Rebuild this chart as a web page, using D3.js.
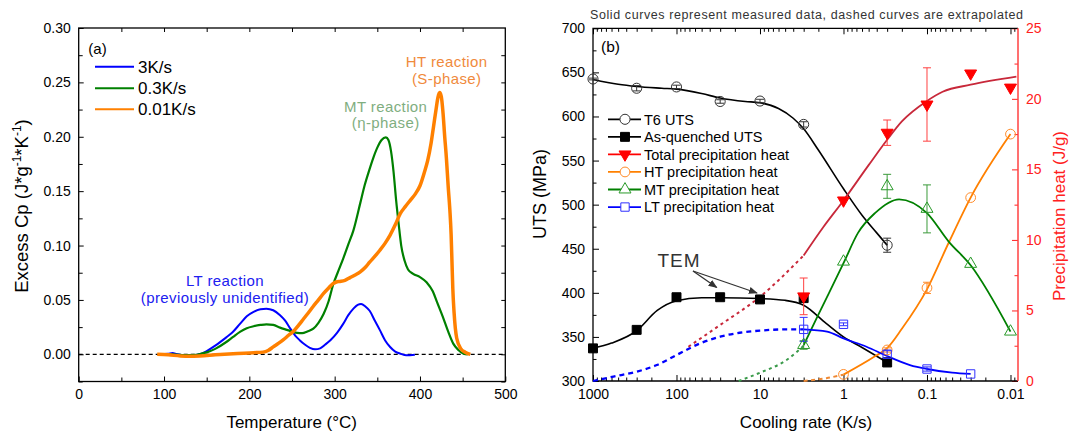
<!DOCTYPE html>
<html>
<head>
<meta charset="utf-8">
<script src="https://cdn.jsdelivr.net/npm/d3@7"></script>
<style>
  body { margin: 0; background: #fff; }
  svg text { font-family: "Liberation Sans", Arial, sans-serif; }
</style>
</head>
<body>
<svg id="chart" width="1071" height="433"></svg>
<script>
// ---------- panel (a): excess Cp curves, [temperature, Cp] ----------
const tempTicks = [0, 100, 200, 300, 400, 500];
const cpTicks = [0, 0.05, 0.10, 0.15, 0.20, 0.25, 0.30];
const rateLabels = ["3K/s", "0.3K/s", "0.01K/s"];

const curve3Ks = [[95,0],[105,0.0005],[110,0.0012],[115,0],[125,-0.001],[135,-0.0008],[142,0],[150,0.003],
  [160,0.008],[173,0.0156],[180,0.02],[189,0.028],[197,0.035],[205,0.039],[213,0.0415],[220,0.042],
  [228,0.0405],[236,0.036],[242,0.031],[248,0.0236],[254,0.017],[259,0.013],[265,0.009],[271,0.006],
  [277,0.0046],[283,0.0055],[289,0.009],[295,0.013],[303,0.02],[310,0.028],[316,0.036],[322,0.042],
  [327,0.0455],[331,0.0463],[336,0.044],[341,0.04],[347,0.031],[353,0.0222],[359,0.013],[365,0.0067],
  [371,0.0025],[377,0.0006],[384,-0.0009],[394,-0.0003]];

const curve03Ks = [[93,0],[110,0],[125,-0.0008],[138,-0.0005],[145,0.001],[150,0.0018],[160,0.005],
  [173,0.0113],[181,0.016],[189,0.0206],[197,0.024],[205,0.0258],[213,0.027],[220,0.0276],[228,0.027],
  [236,0.0245],[244,0.0225],[250,0.021],[256,0.0197],[262,0.0195],[268,0.021],[275,0.0236],[281,0.029],
  [287,0.037],[293,0.049],[298,0.0635],[304,0.076],[310,0.088],[316,0.101],[322,0.114],[330,0.139],
  [335,0.155],[340,0.168],[345,0.18],[350,0.19],[355,0.197],[360,0.1995],[363,0.197],[366,0.187],
  [369,0.168],[372,0.142],[375,0.12],[378,0.1],[382,0.086],[386,0.078],[392,0.074],[400,0.071],
  [408,0.066],[415,0.058],[420,0.048],[427,0.034],[433,0.021],[439,0.0098],[445,0.004],[451,0.0006],[456,0]];

const curve001Ks = [[92,0],[105,-0.0005],[119,-0.0015],[130,-0.0018],[142,-0.0015],[160,-0.0005],
  [181,0.0006],[205,0.0015],[216,0.002],[222,0.0035],[228,0.0068],[234,0.01],[240,0.0135],[246,0.0175],
  [252,0.0215],[258,0.027],[263,0.032],[269,0.038],[275,0.0442],[281,0.05],[287,0.056],[293,0.061],
  [298,0.065],[302,0.0665],[306,0.067],[312,0.068],[318,0.0705],[324,0.073],[330,0.0758],[336,0.08],
  [341,0.0847],[347,0.09],[353,0.0957],[359,0.102],[365,0.1096],[371,0.119],[377,0.1295],[383,0.136],
  [389,0.142],[395,0.148],[400,0.155],[405,0.167],[409,0.178],[413,0.194],[416,0.21],[419,0.226],
  [421,0.236],[423,0.2406],[425,0.237],[427,0.222],[429,0.2],[431,0.18],[433,0.155],[435,0.133],
  [436.5,0.11],[437.5,0.085],[438.5,0.06],[440,0.038],[443,0.015],[448,0.005],[453,0.002],[459,0]];

// ---------- panel (b): UTS and precipitation heat vs cooling rate ----------
const rateTicks = [1000, 100, 10, 1, 0.1, 0.01];
const utsTicks = [300, 350, 400, 450, 500, 550, 600, 650, 700];
const heatTicks = [0, 5, 10, 15, 20, 25];

const utsRates = [1000, 300, 100, 30, 10, 3, 0.3];
const t6Uts = [642.5, 632, 633.5, 617, 617.5, 591, 454];
const t6Err = [1, 3, 2, 2, 2, 3, 8];
const aqUts = [337, 358, 395, 395, 392.5, 394, 321];

const totalRates = [3, 1, 0.3, 0.1, 0.03, 0.01];
const totalHeat = [6.0, 12.8, 17.6, 19.6, 21.8, 20.8];
const totalErr = [1.3, 0, 0.9, 2.6, 0, 0];
const htRates = [1, 0.3, 0.1, 0.03, 0.01];
const htHeat = [0.47, 2.2, 6.6, 13.0, 17.5];
const htErr = [0, 0.15, 0.4, 0, 0];
const mtRates = [3, 1, 0.3, 0.1, 0.03, 0.01];
const mtHeat = [2.55, 8.46, 13.8, 12.2, 8.3, 3.5];
const mtErr = [0.3, 0, 0.85, 1.7, 0, 0];
const ltRates = [3, 1, 0.3, 0.1, 0.03];
const ltHeat = [3.66, 4.02, 1.9, 0.85, 0.5];
const ltErr = [0.85, 0.1, 0.25, 0.15, 0];

// fitted curves, [rate, value]
const t6Fit = [[1000,642],[500,636.5],[300,634],[150,632],[100,631],[50,626],[30,621],[15,617],[10,615.5],
  [6,609],[4,598],[3,586],[2,562],[1,518],[0.6,488],[0.4,468],[0.3,454]];
const aqFit = [[1000,337],[600,343],[300,357],[170,380],[100,391],[50,394.5],[30,394.5],[10,393.5],
  [5,391.5],[3,386],[1.6,365],[1,350],[0.6,338],[0.3,321]];
const totalFit = [[3,8.9],[1.75,10.9],[1,12.8],[0.5,15.3],[0.3,17.1],[0.2,18.4],[0.1,19.85],[0.065,20.5],
  [0.03,21.0],[0.0085,21.57]];
const totalDash = [[72,2.43],[30,3.97],[10,5.97],[3,8.9]];
const htFit = [[1,0.45],[0.42,1.75],[0.3,2.33],[0.2,3.7],[0.1,6.5],[0.055,9.8],[0.03,13.0],[0.01,17.5]];
const htDash = [[3,0],[1.6,0.2],[1,0.45]];
const mtFit = [[3,2.55],[2,4.7],[1,8.35],[0.67,10.5],[0.42,11.9],[0.216,12.88],[0.1,11.9],[0.055,9.88],
  [0.03,8.2],[0.01,3.5]];
const mtDash = [[18,0],[10,0.59],[4.8,1.49],[3,2.5]];
const ltFit = [[3,3.66],[1.57,3.5],[1,3.02],[0.53,2.43],[0.3,1.77],[0.16,1.13],[0.1,0.85],[0.05,0.59],[0.03,0.5]];
const ltDash = [[1000,0],[570,0.31],[300,0.66],[172,1.13],[100,1.84],[52,2.67],[30,3.14],[17.5,3.42],
  [10,3.57],[4.8,3.66],[3,3.66]];

const legendB = ["T6 UTS", "As-quenched UTS", "Total precipitation heat", "HT precipitation heat",
  "MT precipitation heat", "LT precipitation heat"];

const svg = d3.select("#chart");

function addAxis(gen, tf, color = "#000") {
  const a = svg.append("g").attr("transform", tf).call(gen)
    .attr("font-family", null).attr("font-size", 14).attr("color", color);
  a.select(".domain").remove();
  return a;
}

// ================= panel (a) =================
const xa = d3.scaleLinear().domain([0, 500]).range([78.7, 505.3]);
const ya = d3.scaleLinear().domain([-0.025, 0.30]).range([381.5, 28]);

addAxis(d3.axisBottom(xa).tickValues(tempTicks).tickSize(-5).tickPadding(8).tickFormat(d3.format("d")), "translate(0,381.5)");
addAxis(d3.axisBottom(xa).tickValues([50, 150, 250, 350, 450]).tickSize(-4).tickFormat(""), "translate(0,381.5)");
addAxis(d3.axisTop(xa).tickValues(d3.range(50, 500, 50)).tickSize(-4).tickFormat(""), "translate(0,28)");
addAxis(d3.axisLeft(ya).tickValues(cpTicks).tickSize(-5).tickPadding(8).tickFormat(d3.format(".2f")), "translate(78.7,0)");
addAxis(d3.axisLeft(ya).tickValues([-0.025, 0.025, 0.075, 0.125, 0.175, 0.225, 0.275]).tickSize(-4).tickFormat(""), "translate(78.7,0)");
addAxis(d3.axisRight(ya).tickValues(d3.range(-0.025, 0.29, 0.025)).tickSize(-4).tickFormat(""), "translate(505.3,0)");

svg.append("rect").attr("x", 78.7).attr("y", 28).attr("width", 505.3 - 78.7).attr("height", 381.5 - 28)
  .attr("fill", "none").attr("stroke", "#000").attr("stroke-width", 1.3);

svg.append("line").attr("x1", xa(0)).attr("x2", xa(500)).attr("y1", ya(0)).attr("y2", ya(0))
  .attr("stroke", "#000").attr("stroke-width", 1.2).attr("stroke-dasharray", "4,3");

const lineA = d3.line().x(d => xa(d[0])).y(d => ya(d[1])).curve(d3.curveMonotoneX);
const colorsA = ["#0000ff", "#008000", "#ff8000"];
const widthsA = [2, 2.2, 3.5];
[curve3Ks, curve03Ks, curve001Ks].forEach((c, i) => {
  svg.append("path").attr("d", lineA(c)).attr("fill", "none")
    .attr("stroke", colorsA[i]).attr("stroke-width", widthsA[i]).attr("stroke-linejoin", "round");
});

svg.append("text").attr("x", 88.3).attr("y", 53.8).attr("font-size", 15).text("(a)");
rateLabels.forEach((t, i) => {
  const y = [66.7, 88.3, 109.3][i];
  svg.append("line").attr("x1", 95).attr("x2", 134).attr("y1", y).attr("y2", y)
    .attr("stroke", colorsA[i]).attr("stroke-width", 2);
  svg.append("text").attr("x", 138).attr("y", y + 6).attr("font-size", 17).text(t);
});

function note(x, y, lines, color) {
  lines.forEach((t, i) => svg.append("text").attr("x", x).attr("y", y + i * 16.5)
    .attr("text-anchor", "middle").attr("font-size", 15).attr("letter-spacing", 0.4)
    .attr("fill", color).text(t));
}
note(446.7, 67, ["HT reaction", "(S-phase)"], "#f08a3c");
note(385.7, 111.5, ["MT reaction", "(\u03b7-phase)"], "#7fae7f");
note(225, 286, ["LT reaction", "(previously unidentified)"], "#2020f0");

svg.append("text").attr("x", 291.7).attr("y", 427.5).attr("text-anchor", "middle").attr("font-size", 17)
  .text("Temperature (\u00b0C)");
const yTitleA = svg.append("text").attr("transform", "translate(28,206) rotate(-90)")
  .attr("text-anchor", "middle").attr("font-size", 18.5);
yTitleA.append("tspan").text("Excess Cp (J*g");
yTitleA.append("tspan").attr("font-size", 12).attr("dy", -7.5).text("-1");
yTitleA.append("tspan").attr("dy", 7.5).text("*K");
yTitleA.append("tspan").attr("font-size", 12).attr("dy", -7.5).text("-1");
yTitleA.append("tspan").attr("dy", 7.5).text(")");

// ================= panel (b) =================
const xb = d3.scaleLog().domain([1000, 0.00813]).range([593, 1018]);
const yb = d3.scaleLinear().domain([300, 700]).range([381, 28.3]);
const yh = d3.scaleLinear().domain([0, 25]).range([381, 28.3]);

const minorRates = [];
for (let e = -3; e <= 2; e++) for (let k = 2; k <= 9; k++) {
  const v = k * Math.pow(10, e);
  if (v > 0.00813 && v < 1000) minorRates.push(v);
}

addAxis(d3.axisBottom(xb).tickValues(rateTicks).tickSize(-6).tickPadding(8).tickFormat(d => String(d)), "translate(0,381)");
addAxis(d3.axisBottom(xb).tickValues(minorRates).tickSize(-3.5).tickFormat(""), "translate(0,381)");
addAxis(d3.axisTop(xb).tickValues(rateTicks).tickSize(-6).tickFormat(""), "translate(0,28.3)");
addAxis(d3.axisTop(xb).tickValues(minorRates).tickSize(-3.5).tickFormat(""), "translate(0,28.3)");
addAxis(d3.axisLeft(yb).tickValues(utsTicks).tickSize(-6).tickPadding(8), "translate(593,0)");
addAxis(d3.axisLeft(yb).tickValues(d3.range(325, 700, 50)).tickSize(-3.5).tickFormat(""), "translate(593,0)");
addAxis(d3.axisRight(yh).tickValues(heatTicks).tickSize(-6).tickPadding(8), "translate(1018,0)", "#ff2020");
addAxis(d3.axisRight(yh).tickValues([2.5, 7.5, 12.5, 17.5, 22.5]).tickSize(-3.5).tickFormat(""), "translate(1018,0)", "#ff2020");

svg.append("path").attr("d", "M1018,28.3H593V381H1018").attr("fill", "none").attr("stroke", "#000").attr("stroke-width", 1.3);
svg.append("line").attr("x1", 1018).attr("x2", 1018).attr("y1", 28.3).attr("y2", 381)
  .attr("stroke", "#ff4040").attr("stroke-width", 1.5);

const lineU = d3.line().x(d => xb(d[0])).y(d => yb(d[1])).curve(d3.curveMonotoneX);
const lineH = d3.line().x(d => xb(d[0])).y(d => yh(d[1])).curve(d3.curveMonotoneX);

function curve(gen, data, color, width, dash) {
  svg.append("path").attr("d", gen(data)).attr("fill", "none").attr("stroke", color)
    .attr("stroke-width", width).attr("stroke-dasharray", dash || null);
}
curve(lineH, ltDash, "#0000ff", 2.3, "5,4");
curve(lineH, mtDash, "#3a9a4a", 2, "3,3.5");
curve(lineH, totalDash, "#c8283a", 2, "3,3.5");
curve(lineH, htDash, "#ee8833", 2, "4,3.5");
curve(lineU, t6Fit, "#000", 1.6);
curve(lineU, aqFit, "#000", 1.6);
curve(lineH, totalFit, "#c8283a", 1.8);
curve(lineH, htFit, "#ff8000", 1.8);
curve(lineH, mtFit, "#008000", 1.8);
curve(lineH, ltFit, "#0000ff", 1.8);

function errBars(rates, vals, errs, scale, color) {
  rates.forEach((r, i) => {
    if (!errs[i]) return;
    const x = xb(r), y1 = scale(vals[i] - errs[i]), y2 = scale(vals[i] + errs[i]);
    const p = `M${x},${y1}V${y2}M${x - 4},${y1}H${x + 4}M${x - 4},${y2}H${x + 4}`;
    svg.append("path").attr("d", p).attr("fill", "none").attr("stroke", color).attr("stroke-width", 1);
  });
}
errBars(utsRates, t6Uts, t6Err, yb, "#333");
errBars(totalRates, totalHeat, totalErr, yh, "#ff4040");
errBars(htRates, htHeat, htErr, yh, "#ff8c2a");
errBars(mtRates, mtHeat, mtErr, yh, "#3a9a3a");
errBars(ltRates, ltHeat, ltErr, yh, "#3030ff");

const symT6 = d3.symbol(d3.symbolCircle, 80);
const symAq = d3.symbol(d3.symbolSquare, 80);
const symTot = d3.symbol(d3.symbolTriangle, 62);
const symHt = d3.symbol(d3.symbolCircle, 75);
const symMt = d3.symbol(d3.symbolTriangle, 62);
const symLt = d3.symbol(d3.symbolSquare, 70);

function marks(rates, vals, scale, sym, fill, stroke, rot = 0) {
  rates.forEach((r, i) => {
    svg.append("path").attr("d", sym())
      .attr("transform", `translate(${xb(r)},${scale(vals[i])}) rotate(${rot})`)
      .attr("fill", fill).attr("stroke", stroke).attr("stroke-width", 1);
  });
}
marks(utsRates, t6Uts, yb, symT6, "none", "#333");
marks(utsRates, aqUts, yb, symAq, "#000", "#000");
marks(totalRates, totalHeat, yh, symTot, "#ff0000", "#ff0000", 180);
marks(htRates, htHeat, yh, symHt, "none", "#ff8c2a");
marks(mtRates, mtHeat, yh, symMt, "none", "#2a9a2a");
marks(ltRates, ltHeat, yh, symLt, "none", "#3030ff");

// legend (b)
const legColors = ["#000", "#000", "#ff0000", "#ff8000", "#008000", "#0000ff"];
const legSyms = [[symT6, "#fff", "#333", 0], [symAq, "#000", "#000", 0], [symTot, "#ff0000", "#ff0000", 180],
  [symHt, "#fff", "#ff8c2a", 0], [symMt, "#fff", "#2a9a2a", 0], [symLt, "#fff", "#3030ff", 0]];
legendB.forEach((t, i) => {
  const y = 119.3 + i * 17.55;
  svg.append("line").attr("x1", 608).attr("x2", 641).attr("y1", y).attr("y2", y)
    .attr("stroke", legColors[i]).attr("stroke-width", 1.8);
  const s = legSyms[i];
  svg.append("path").attr("d", s[0]()).attr("transform", `translate(625,${y}) rotate(${s[3]})`)
    .attr("fill", s[1]).attr("stroke", s[2]).attr("stroke-width", 1);
  svg.append("text").attr("x", 644).attr("y", y + 5.2).attr("font-size", 14.5).text(t);
});

svg.append("text").attr("x", 601).attr("y", 52).attr("font-size", 15.5).text("(b)");
svg.append("text").attr("x", 590).attr("y", 18.5).attr("font-size", 12.5).attr("fill", "#333")
  .attr("textLength", 433).attr("lengthAdjust", "spacing")
  .text("Solid curves represent measured data, dashed curves are extrapolated");

// TEM annotation
svg.append("defs").append("marker").attr("id", "arr").attr("viewBox", "0 0 10 10")
  .attr("refX", 9).attr("refY", 5).attr("markerWidth", 9).attr("markerHeight", 9)
  .attr("markerUnits", "userSpaceOnUse").attr("orient", "auto")
  .append("path").attr("d", "M0,1L10,5L0,9z").attr("fill", "#333");
svg.append("text").attr("x", 679).attr("y", 266.5).attr("text-anchor", "middle").attr("font-size", 19)
  .attr("letter-spacing", 1).attr("fill", "#333").text("TEM");
[[716.7, 287.5], [757, 293]].forEach(e => {
  svg.append("line").attr("x1", 693).attr("y1", 271).attr("x2", e[0]).attr("y2", e[1])
    .attr("stroke", "#333").attr("stroke-width", 1.3).attr("marker-end", "url(#arr)");
});

svg.append("text").attr("x", 806).attr("y", 427.5).attr("text-anchor", "middle").attr("font-size", 17)
  .text("Cooling rate (K/s)");
svg.append("text").attr("transform", "translate(546,194) rotate(-90)").attr("text-anchor", "middle")
  .attr("font-size", 18).text("UTS (MPa)");
svg.append("text").attr("transform", "translate(1065,216) rotate(-90)").attr("text-anchor", "middle")
  .attr("font-size", 17).attr("fill", "#ff2020").text("Precipitation heat (J/g)");
</script>
</body>
</html>
